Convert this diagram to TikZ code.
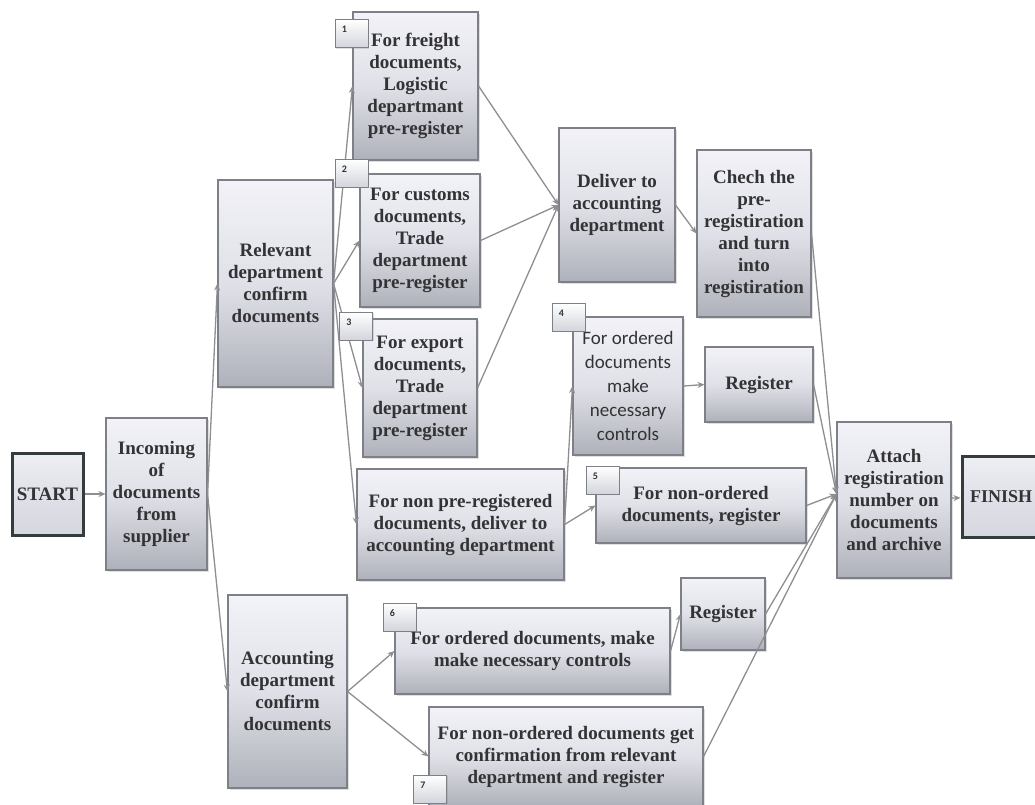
\documentclass[tikz,border=0pt]{standalone}
\usepackage{fontspec}
\setmainfont{Liberation Serif}
\newfontfamily\calibrifont{Carlito}
\usetikzlibrary{arrows.meta,shadows,calc}

\definecolor{boxline}{HTML}{7E8088}
\definecolor{boxtop}{HTML}{F2F2F8}
\definecolor{boxmid}{HTML}{E0E1E8}
\definecolor{boxbot}{HTML}{AFB1BA}
\definecolor{txt}{HTML}{333335}
\definecolor{wire}{HTML}{8E8E93}
\definecolor{endline}{HTML}{343C3E}

\tikzset{
  wh/.style 2 args={minimum width=#1pt, minimum height=#2pt},
  stepbox/.style={draw=boxline, line width=1.1pt,
    top color=boxtop, bottom color=boxbot, middle color=boxmid,
    text=txt, font=\fontsize{19}{22}\selectfont\bfseries,
    align=center, inner sep=2pt,
    drop shadow={shadow xshift=1.5pt, shadow yshift=-1.5pt, opacity=0.25}},
  sansbox/.style={stepbox, font=\calibrifont\fontsize{19}{24}\selectfont},
  endbox/.style={stepbox, draw=endline, line width=3pt,
    top color=boxtop!80!boxmid, bottom color=boxmid!80!boxbot, middle color=boxmid},
  badge/.style={draw=boxline, line width=0.9pt,
    top color=white, bottom color=boxmid!75!boxbot,
    minimum width=33pt, minimum height=28pt, inner sep=0pt,
    drop shadow={shadow xshift=1pt, shadow yshift=-1pt, opacity=0.25}},
  badgenum/.style={anchor=north west, inner sep=0pt, xshift=7pt, yshift=-7pt,
    text=txt, font=\calibrifont\bfseries\fontsize{10}{11}\selectfont},
  wire/.style={draw=wire, line width=1.3pt, -{Stealth[length=7pt,width=6pt]}},
}

\begin{document}
\begin{tikzpicture}[x=1pt, y=-1pt]
\useasboundingbox (0,0) rectangle (1035,804);

% start / finish
\node[endbox, wh={71}{82}] (start) at (47.5,494) {START};
\node[endbox, wh={78}{81}, font=\fontsize{18}{21}\selectfont\bfseries] (finish) at (1001,496.5) {FINISH};

% first columns
\node[stepbox, wh={101}{152}] (inc) at (156.5,494) {Incoming\\of\\documents\\from\\supplier};
\node[stepbox, wh={115}{207}] (rel) at (275.5,283.5) {Relevant\\department\\confirm\\documents};
\node[stepbox, wh={119}{193}] (acc) at (287.5,691.5) {Accounting\\department\\confirm\\documents};

% pre-registration branches
\node[stepbox, wh={125}{148}] (frt) at (415.5,86) {For freight\\documents,\\Logistic\\departmant\\pre-register};
\node[stepbox, wh={120}{133}] (cus) at (420,240.5) {For customs\\documents,\\Trade\\department\\pre-register};
\node[stepbox, wh={114}{138}] (exp) at (420,388) {For export\\documents,\\Trade\\department\\pre-register};
\node[stepbox, wh={207}{111}] (npr) at (460.5,524.5) {For non pre-registered\\documents, deliver to\\accounting department};

\node[stepbox, wh={116}{154}] (dlv) at (617,205) {Deliver to\\accounting\\department};
\node[stepbox, wh={114}{167}] (chk) at (754,233.5) {Chech the\\pre-\\registiration\\and turn\\into\\registiration};

\node[sansbox, wh={110}{138}] (ord) at (628,386) {For ordered\\documents\\make\\necessary\\controls};
\node[stepbox, wh={108}{75}] (rega) at (759,384.5) {Register};
\node[stepbox, wh={210}{75}] (nord) at (701,505.5) {For non-ordered\\documents, register};

% accounting branches
\node[stepbox, wh={275}{86}] (aord) at (532.5,651) {For ordered documents, make\\make necessary controls};
\node[stepbox, wh={84}{72}] (regb) at (723,614) {Register};
\node[stepbox, wh={274}{99}] (anord) at (566,756.5) {For non-ordered documents get\\confirmation from relevant\\department and register};

\node[stepbox, wh={114}{156}] (att) at (894,500) {Attach\\registiration\\number on\\documents\\and archive};
\coordinate (attin) at ($(att.west)+(0,-6)$);

% connectors
\draw[wire] (start) -- (inc);
\draw[wire] (inc.east) -- (rel.west);
\draw[wire] (inc.east) -- (acc.west);
\draw[wire] (rel.east) -- (frt.west);
\draw[wire] (rel.east) -- (cus.west);
\draw[wire] (rel.east) -- (exp.west);
\draw[wire] (rel.east) -- (npr.west);
\draw[wire] (frt.east) -- (dlv.west);
\draw[wire] (cus.east) -- (dlv.west);
\draw[wire] (exp.east) -- (dlv.west);
\draw[wire] (dlv.east) -- (chk.west);
\draw[wire] (npr.east) -- (ord.west);
\draw[wire] (npr.east) -- (nord.west);
\draw[wire] (ord.east) -- (rega.west);
\draw[wire] (acc.east) -- (aord.west);
\draw[wire] (acc.east) -- (anord.west);
\draw[wire] (aord.east) -- (regb.west);
\draw[wire] (chk.east) -- (attin);
\draw[wire] (rega.east) -- (attin);
\draw[wire] (nord.east) -- (attin);
\draw[wire] (regb.east) -- (attin);
\draw[wire] (anord.east) -- (attin);
\draw[wire] (att) -- (finish);

% numbered tags
\node[badge, label={[badgenum]north west:1}] (t1) at (351.5,33.5) {};
\node[badge, label={[badgenum]north west:2}] (t2) at (351.5,173) {};
\node[badge, label={[badgenum]north west:3}] (t3) at (356,326) {};
\node[badge, label={[badgenum]north west:4}] (t4) at (568.5,317) {};
\node[badge, label={[badgenum]north west:5}] (t5) at (602.5,480) {};
\node[badge, label={[badgenum]north west:6}] (t6) at (399.5,617) {};
\node[badge, label={[badgenum]north west:7}] (t7) at (430,789) {};
\end{tikzpicture}
\end{document}
